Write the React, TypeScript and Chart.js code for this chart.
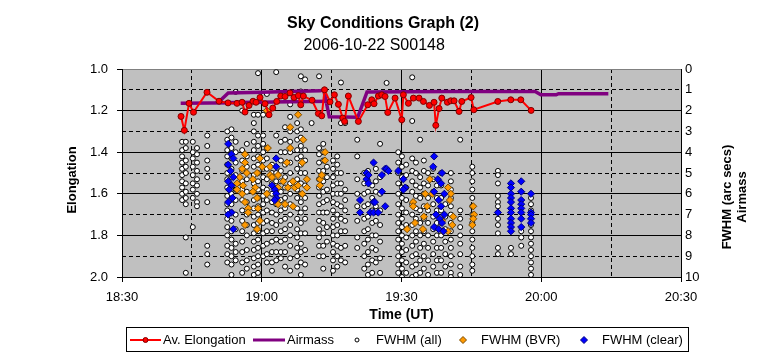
import React, { useEffect, useRef } from 'react';
import { Chart, registerables } from 'chart.js';

Chart.register(...registerables);

const FONT = "'Liberation Sans', Arial, Helvetica, sans-serif";

const titleText = 'Sky Conditions Graph (2)';
const subtitleText = '2006-10-22 S00148    ';
const xAxisTitle = 'Time (UT)';
const leftAxisTitle = 'Elongation';
const rightAxisTitle = ['FWHM (arc secs)', 'Airmass'];

// x values: minutes after 18:00 UT
const xTickValues = [30, 60, 90, 120, 150];
const xTickLabels = ['18:30', '19:00', '19:30', '20:00', '20:30'];

const legendLabels = ['Av. Elongation', 'Airmass', 'FWHM (all)', 'FWHM (BVR)', 'FWHM (clear)'];

// Av. Elongation [minute, elongation]
const elongation: [number, number][] = [
  [42.67, 1.228], [43.38, 1.295], [44.39, 1.165], [45.35, 1.208], [48.25, 1.112], [50.83, 1.155],
  [52.76, 1.163], [54.69, 1.165], [55.77, 1.16], [56.41, 1.207], [57.27, 1.175], [58.13, 1.155],
  [58.77, 1.16], [59.63, 1.137], [60.71, 1.167], [61.56, 1.22], [62.36, 1.188], [63.22, 1.156],
  [64.08, 1.13], [65.0, 1.132], [66.07, 1.115], [66.93, 1.137], [67.86, 1.128], [68.37, 1.172],
  [68.93, 1.13], [70.8, 1.15], [72.15, 1.214], [72.88, 1.225], [73.48, 1.1], [74.66, 1.158],
  [75.59, 1.124], [76.45, 1.17], [77.39, 1.236], [77.78, 1.252], [78.59, 1.13], [80.74, 1.252],
  [82.76, 1.172], [83.62, 1.148], [84.11, 1.167], [85.04, 1.13], [85.76, 1.124], [86.47, 1.132],
  [87.05, 1.209], [88.62, 1.14], [90.06, 1.244], [90.4, 1.124], [91.48, 1.165], [92.55, 1.14],
  [93.77, 1.14], [94.7, 1.156], [95.99, 1.175], [96.99, 1.16], [97.36, 1.271], [98.07, 1.19],
  [98.65, 1.14], [99.85, 1.16], [100.58, 1.153], [101.29, 1.153], [102.36, 1.204], [102.94, 1.156],
  [104.94, 1.137], [105.52, 1.196], [110.67, 1.156], [113.46, 1.148], [115.61, 1.148], [117.82, 1.199],
];

// Airmass [minute, airmass] in recorded order
const airmass: [number, number][] = [
  [42.6, 1.65], [55, 1.62], [65, 1.58], [74.7, 1.55], [50.6, 1.62], [52.8, 1.15], [60, 1.12],
  [66, 1.08], [72.5, 1.05], [73.3, 1.0], [74.5, 2.3], [80.6, 2.32], [82.6, 1.1], [100, 1.08],
  [118.7, 1.08], [119.9, 1.24], [123.2, 1.24], [123.7, 1.19], [134.4, 1.19],
];

// FWHM (all): [minute, values...]
const fwhmAll: [number, number[]][] = [
  [42.9, [3.5, 3.9, 4.2, 4.5, 4.8, 5.1, 5.4, 5.7, 6.0, 6.3]],
  [43.7, [3.5, 3.8, 4.4, 4.7, 5.0, 5.5, 5.9, 6.2, 6.5, 8.1, 9.8]],
  [45.2, [3.5, 4.0, 4.3, 4.7, 5.1, 5.5, 5.8, 6.2, 7.6]],
  [46.1, [3.8, 4.1, 4.5, 4.9, 5.3, 5.6, 6.0, 6.4, 6.6]],
  [48.3, [3.2, 3.7, 4.4, 4.8, 5.2, 6.4, 8.5, 8.9, 9.4]],
  [52.6, [3.0, 3.4, 3.9, 4.2, 4.6, 5.0, 5.3, 5.7, 6.1, 6.5, 6.8, 7.2, 7.6, 8.0, 8.5, 8.9, 9.3]],
  [53.5, [2.9, 3.3, 3.8, 4.3, 4.8, 5.2, 5.6, 6.0, 6.5, 6.9, 7.3, 7.8, 8.2, 8.6, 9.0, 9.4, 9.9]],
  [54.4, [1.1, 3.5, 4.0, 4.5, 5.1, 5.8, 6.3, 7.0, 7.7, 8.4, 8.8, 9.2]],
  [55.8, [2.0, 3.9, 4.4, 4.9, 5.4, 5.8, 6.3, 6.8, 7.3, 7.8, 8.3, 8.8, 9.3, 9.8]],
  [56.8, [3.6, 4.2, 4.7, 5.3, 5.9, 6.4, 7.0, 7.5, 8.0, 8.7, 9.2, 9.6]],
  [58.3, [2.2, 2.6, 3.0, 3.5, 3.9, 4.3, 4.7, 5.1, 5.5, 5.9, 6.3, 6.7, 7.1, 7.5, 7.9, 8.3, 8.7, 9.1, 9.5, 9.9]],
  [59.2, [0.2, 2.2, 3.2, 3.7, 4.2, 4.6, 5.0, 5.4, 5.8, 6.2, 6.6, 7.0, 7.4, 7.8, 8.2, 8.6, 9.0, 9.4, 9.8]],
  [60.3, [2.2, 3.2, 3.6, 4.0, 4.4, 4.8, 5.2, 5.7, 6.1, 6.5, 6.9, 7.4, 7.9, 8.5, 9.0]],
  [61.1, [1.2, 3.8, 4.3, 4.8, 5.3, 5.8, 6.3, 6.8, 7.3, 7.8, 8.4, 8.9, 9.3]],
  [62.2, [4.6, 5.0, 5.5, 6.0, 6.4, 6.9, 7.4, 7.8, 8.3, 8.8, 9.3, 9.7]],
  [63.1, [0.15, 3.2, 5.0, 5.4, 5.9, 6.5, 7.0, 7.5, 8.2, 8.8, 9.2]],
  [64.1, [3.5, 4.0, 4.4, 4.9, 5.4, 5.9, 6.3, 6.8, 7.3, 7.8, 8.3, 8.8, 9.1]],
  [65.0, [2.8, 3.4, 4.0, 4.6, 5.2, 5.7, 6.2, 6.7, 7.2, 7.7, 8.2, 8.8, 9.5]],
  [66.1, [1.7, 2.3, 3.0, 3.5, 4.0, 4.5, 5.0, 5.5, 6.0, 6.5, 7.0, 7.5, 8.0, 8.5, 9.1, 9.7]],
  [67.6, [2.6, 3.0, 3.4, 3.9, 4.3, 4.8, 5.3, 5.8, 6.2, 6.7, 7.2, 7.7, 8.1, 8.6, 9.0, 9.5]],
  [68.4, [0.35, 1.08, 2.9, 3.3, 3.7, 4.2, 4.6, 5.0, 5.5, 6.0, 6.4, 6.9, 7.4, 7.9, 8.4, 8.8, 9.3, 9.9]],
  [69.3, [0.5, 3.9, 4.4, 5.0, 5.6, 6.2, 6.7, 7.2, 7.9, 8.7, 9.4]],
  [70.7, [2.6]],
  [72.3, [0.35, 3.8, 4.1, 4.5, 4.9, 5.3, 5.7, 6.1, 6.5, 6.9, 7.3, 7.7, 8.1, 8.5, 9.0]],
  [73.2, [3.6, 4.0, 4.4, 4.9, 5.4, 5.9, 6.4, 6.9, 7.4, 7.9, 8.5, 9.0, 9.6]],
  [74.0, [4.7, 5.2, 5.8, 6.3, 6.9, 7.6, 8.3]],
  [75.3, [4.4, 4.8, 5.2, 5.6, 6.0, 6.4, 6.8, 7.2, 7.6, 8.0, 8.4, 8.8, 9.2, 9.7]],
  [76.2, [4.2, 4.6, 5.0, 5.5, 6.0, 6.5, 7.0, 7.5, 8.0, 8.5, 9.0, 9.5]],
  [77.0, [0.65, 2.6, 5.0, 5.5, 6.0, 6.6, 7.2, 7.8, 8.6, 9.2]],
  [77.9, [2.6, 5.8, 6.3, 6.8, 7.3, 7.8, 8.5, 9.3]],
  [80.5, [3.4, 4.2, 5.3, 6.0, 6.6, 7.3, 8.1, 8.6]],
  [82.0, [5.0, 5.5, 6.0, 6.6, 7.2, 7.8, 8.4, 9.0, 9.6]],
  [82.8, [4.9, 5.4, 5.9, 6.5, 7.1, 7.7, 8.2, 8.8, 9.4, 9.9]],
  [83.7, [5.6, 6.2, 6.8, 7.4, 8.0, 8.6, 9.2, 9.8]],
  [84.5, [4.8, 5.4, 5.9, 6.6, 7.3, 8.0, 8.7, 9.3]],
  [85.4, [3.6, 5.2, 6.0, 6.8, 7.5, 8.3, 9.1, 9.8]],
  [86.8, [0.67]],
  [89.3, [4.0, 4.5, 5.0, 5.5, 6.0, 6.5, 7.0, 7.4, 7.8, 8.2, 8.6, 9.0, 9.4, 9.8]],
  [90.1, [4.2, 4.7, 5.2, 5.7, 6.2, 6.7, 7.2, 7.6, 8.0, 8.4, 8.8, 9.2, 9.6, 10.0]],
  [91.0, [4.6, 5.1, 5.7, 6.3, 6.9, 7.5, 8.1, 8.7, 9.3, 9.8]],
  [92.3, [0.4, 2.5, 4.3, 4.9, 5.4, 5.9, 6.5, 7.0, 7.5, 8.0, 8.5, 9.0, 9.5, 10.0]],
  [93.1, [4.5, 5.0, 5.6, 6.1, 6.7, 7.2, 7.8, 8.3, 8.9, 9.4, 9.9]],
  [94.0, [3.4, 5.2, 5.7, 6.2, 6.8, 7.4, 8.0, 8.6, 9.2, 9.8]],
  [94.8, [4.4, 4.9, 5.5, 6.0, 6.6, 7.2, 7.8, 8.4, 9.0, 9.6]],
  [95.7, [5.0, 5.6, 6.2, 6.8, 7.4, 8.0, 8.6, 9.2, 9.9]],
  [96.8, [4.8, 5.3, 5.9, 6.5, 7.1, 7.7, 8.3, 8.9, 9.5]],
  [97.6, [5.6, 6.2, 6.8, 7.4, 8.0, 8.6, 9.2, 9.8]],
  [98.5, [5.0, 5.6, 6.2, 6.8, 7.4, 8.0, 8.6, 9.2, 9.8]],
  [99.4, [6.5, 7.1, 7.7, 8.3, 8.9, 9.5]],
  [100.6, [5.0, 5.4, 5.8, 6.2, 6.6, 7.0, 7.4, 7.8, 8.2, 8.6, 9.0, 9.4, 9.8, 10.0]],
  [102.6, [3.4, 6.8, 7.2, 7.6, 8.0, 8.4, 8.9, 9.5, 9.9]],
  [105.2, [4.7, 5.0, 5.4, 5.8, 6.2, 6.6, 7.0, 7.4, 7.8, 8.2, 8.6, 9.0, 9.4, 9.7]],
  [110.7, [4.9, 5.1, 5.5, 6.1, 6.4, 6.6, 6.9, 7.2, 7.5, 7.9, 8.6, 8.9]],
  [113.5, [8.6, 8.9]],
  [115.7, [7.8, 8.1, 8.5]],
  [117.8, [6.2, 6.5, 6.8, 7.5, 7.8, 8.1, 8.4, 8.7, 9.0, 9.3, 9.6, 9.9]],
];

// FWHM (BVR) [minute, fwhm]
const fwhmBVR: [number, number][] = [
  [56.4, 4.1], [56.4, 4.5], [55.8, 4.8], [56.8, 5.0], [55.3, 5.2], [54.7, 5.5], [56.0, 5.6], [54.7, 5.8],
  [55.8, 6.0], [56.4, 6.4], [57.1, 6.7], [57.1, 6.9], [56.4, 7.5], [59.0, 7.7], [59.6, 4.3], [60.1, 4.7],
  [59.0, 5.0], [58.1, 5.3], [58.6, 5.7], [58.1, 5.9], [59.0, 6.2], [59.2, 6.7], [59.6, 7.3], [61.1, 6.0],
  [61.8, 5.1], [61.8, 4.7], [61.3, 3.8], [62.2, 5.2], [63.5, 5.1], [63.5, 5.7], [65.4, 4.5], [66.1, 2.8],
  [66.1, 3.8], [64.6, 5.4], [65.6, 5.7], [66.7, 5.4], [67.1, 5.7], [67.8, 5.6], [68.7, 4.5], [69.7, 5.3],
  [69.7, 5.7], [68.7, 6.0], [66.7, 6.6], [65.0, 6.5], [63.3, 6.3], [63.5, 6.5], [72.5, 5.3], [72.9, 5.1],
  [73.6, 4.4], [73.6, 4.0], [72.5, 5.6], [68.9, 3.4], [67.8, 2.2], [61.1, 2.0],
  [92.5, 6.4], [92.5, 6.6], [95.1, 6.0], [95.5, 6.6], [96.6, 6.0], [96.1, 5.3], [94.8, 7.1], [92.9, 7.4],
  [91.2, 7.7], [94.6, 7.7], [98.9, 7.8], [100.0, 5.7], [100.6, 6.0], [100.4, 6.3], [101.1, 7.1], [100.9, 7.5],
  [100.0, 7.8], [98.7, 7.3], [105.4, 6.6], [105.6, 7.0], [105.4, 7.2], [105.2, 7.5],
];

// FWHM (clear) [minute, fwhm]
const fwhmClear: [number, number][] = [
  [52.8, 3.6], [53.5, 4.1], [53.9, 4.3], [52.8, 4.6], [53.3, 4.9], [53.9, 5.2], [52.8, 5.4], [53.5, 5.6],
  [53.0, 5.8], [53.7, 6.2], [52.8, 6.4], [53.5, 6.9], [52.8, 7.0], [53.9, 7.7],
  [63.1, 4.3], [63.1, 4.7], [62.2, 5.6], [62.8, 5.8], [63.1, 6.0], [63.1, 6.2], [62.8, 6.3],
  [81.1, 6.3], [81.1, 6.9], [82.5, 5.0], [82.5, 5.3], [82.9, 5.1], [82.9, 5.5], [84.0, 4.5], [84.0, 6.4],
  [84.3, 6.4], [83.3, 6.9], [84.0, 6.9], [85.0, 6.9], [85.8, 5.1], [85.8, 5.9], [86.5, 4.8], [86.5, 6.6],
  [86.8, 4.8], [87.2, 4.9], [89.3, 4.9], [90.4, 5.3], [90.8, 5.7], [90.4, 5.8],
  [97.0, 4.2], [96.8, 4.7], [97.8, 5.3], [98.5, 5.5], [97.0, 5.9], [98.0, 6.3], [98.5, 6.6], [97.4, 7.0],
  [98.2, 7.2], [98.7, 7.4], [97.0, 7.6], [98.0, 7.7], [99.0, 7.8], [98.7, 5.0], [99.2, 6.0], [99.2, 7.0],
  [110.7, 6.9],
  [113.5, 5.5], [113.5, 5.7], [113.5, 6.0], [113.5, 6.2], [113.5, 6.4], [113.5, 6.7], [113.5, 6.9],
  [113.5, 7.2], [113.5, 7.4], [113.5, 7.6], [113.5, 7.8],
  [115.7, 5.4], [115.7, 5.9], [115.7, 6.3], [115.7, 6.5], [115.7, 6.7], [115.7, 6.9], [115.7, 7.2], [115.7, 7.6],
  [117.8, 6.0], [117.8, 6.9], [117.8, 7.0], [117.8, 7.2], [117.8, 7.4],
];

const RED = '#FF0000';
const RED_EDGE = '#800000';
const PURPLE = '#800080';
const ORANGE = '#FF9900';
const ORANGE_EDGE = '#7A4A00';
const BLUE = '#0000FF';
const BLUE_EDGE = '#000080';

const toXY = (arr: [number, number][]) => arr.map(([x, y]) => ({ x, y }));
const allPoints = fwhmAll.flatMap(([x, vals]) => vals.map((y) => ({ x, y })));

export default function App() {
  const ref = useRef<HTMLCanvasElement>(null);

  useEffect(() => {
    const canvas = ref.current;
    if (!canvas) return;

    const bgPlugin = {
      id: 'plotBg',
      beforeDraw(chart: any) {
        const { ctx, chartArea } = chart;
        ctx.save();
        ctx.fillStyle = '#C0C0C0';
        ctx.fillRect(chartArea.left, chartArea.top, chartArea.right - chartArea.left, chartArea.bottom - chartArea.top);
        ctx.restore();
      },
    };

    const axisTitlesPlugin = {
      id: 'axisTitles',
      afterDraw(chart: any) {
        const { ctx, chartArea } = chart;
        const cy = (chartArea.top + chartArea.bottom) / 2;
        ctx.save();
        ctx.fillStyle = '#000';
        ctx.font = `bold 13px ${FONT}`;
        ctx.textAlign = 'center';
        ctx.textBaseline = 'middle';
        // left axis title
        ctx.save();
        ctx.translate(72, cy + 7);
        ctx.rotate(-Math.PI / 2);
        ctx.fillText(leftAxisTitle, 0, 0);
        ctx.restore();
        // right axis title (two lines)
        rightAxisTitle.forEach((t, i) => {
          ctx.save();
          ctx.translate(chartArea.right + 46 + i * 15, cy + 24);
          ctx.rotate(-Math.PI / 2);
          ctx.fillText(t, 0, 0);
          ctx.restore();
        });
        ctx.restore();
      },
    };

    const legendPlugin = {
      id: 'boxLegend',
      afterDraw(chart: any) {
        const { ctx } = chart;
        const left = 126.5, top = 327.5, right = 688.5, bottom = 351.5;
        const cy = 340;
        ctx.save();
        ctx.fillStyle = '#FFFFFF';
        ctx.fillRect(left, top, right - left, bottom - top);
        ctx.strokeStyle = '#000';
        ctx.lineWidth = 1;
        ctx.strokeRect(left, top, right - left, bottom - top);

        ctx.strokeStyle = RED;
        ctx.lineWidth = 2;
        ctx.beginPath(); ctx.moveTo(130, cy); ctx.lineTo(161, cy); ctx.stroke();
        ctx.fillStyle = RED; ctx.strokeStyle = RED_EDGE; ctx.lineWidth = 1;
        ctx.beginPath(); ctx.arc(145.5, cy, 2.5, 0, Math.PI * 2); ctx.fill(); ctx.stroke();
        ctx.strokeStyle = PURPLE; ctx.lineWidth = 3;
        ctx.beginPath(); ctx.moveTo(253, cy); ctx.lineTo(285, cy); ctx.stroke();
        ctx.fillStyle = '#fff'; ctx.strokeStyle = '#000'; ctx.lineWidth = 1;
        ctx.beginPath(); ctx.arc(357, cy, 2, 0, Math.PI * 2); ctx.fill(); ctx.stroke();
        const diamond = (x: number, fill: string, edge: string) => {
          ctx.fillStyle = fill; ctx.strokeStyle = edge; ctx.lineWidth = 1;
          ctx.beginPath();
          ctx.moveTo(x, cy - 3.5); ctx.lineTo(x + 3.5, cy); ctx.lineTo(x, cy + 3.5); ctx.lineTo(x - 3.5, cy);
          ctx.closePath(); ctx.fill(); ctx.stroke();
        };
        diamond(463, ORANGE, ORANGE_EDGE);
        diamond(584, BLUE, BLUE_EDGE);

        ctx.fillStyle = '#000';
        ctx.font = `13px ${FONT}`;
        ctx.textAlign = 'left';
        ctx.textBaseline = 'middle';
        const textX = [163, 287, 376, 481, 602];
        legendLabels.forEach((t, i) => ctx.fillText(t, textX[i], cy + 0.5));
        ctx.restore();
      },
    };

    const tickFont = { family: FONT, size: 13 };

    const chart = new Chart(canvas, {
      type: 'line',
      data: {
        datasets: [
          {
            label: legendLabels[0],
            data: toXY(elongation),
            xAxisID: 'x',
            yAxisID: 'y',
            borderColor: RED,
            borderWidth: 2,
            pointRadius: 3,
            pointBackgroundColor: RED,
            pointBorderColor: RED_EDGE,
            pointBorderWidth: 1,
            tension: 0,
            order: 1,
          },
          {
            label: legendLabels[1],
            data: toXY(airmass),
            xAxisID: 'x',
            yAxisID: 'y2',
            borderColor: PURPLE,
            borderWidth: 3.5,
            pointRadius: 0,
            tension: 0,
            order: 2,
          },
          {
            label: legendLabels[4],
            data: toXY(fwhmClear),
            xAxisID: 'x',
            yAxisID: 'y2',
            showLine: false,
            pointStyle: 'rectRot',
            pointRadius: 3.6,
            pointBackgroundColor: BLUE,
            pointBorderColor: BLUE_EDGE,
            pointBorderWidth: 1,
            order: 3,
          },
          {
            label: legendLabels[3],
            data: toXY(fwhmBVR),
            xAxisID: 'x',
            yAxisID: 'y2',
            showLine: false,
            pointStyle: 'rectRot',
            pointRadius: 3.6,
            pointBackgroundColor: ORANGE,
            pointBorderColor: ORANGE_EDGE,
            pointBorderWidth: 1,
            order: 4,
          },
          {
            label: legendLabels[2],
            data: allPoints,
            xAxisID: 'x',
            yAxisID: 'y2',
            showLine: false,
            pointStyle: 'circle',
            pointRadius: 2.5,
            pointBackgroundColor: '#FFFFFF',
            pointBorderColor: '#000000',
            pointBorderWidth: 1,
            order: 5,
          },
        ] as any,
      },
      options: {
        responsive: false,
        devicePixelRatio: 1,
        animation: false,
        events: [],
        layout: { padding: { left: 0, right: 0, top: 0, bottom: 34 } },
        plugins: {
          legend: { display: false },
          tooltip: { enabled: false },
          title: {
            display: true,
            text: titleText,
            color: '#000',
            font: { family: FONT, size: 16, weight: 'bold', lineHeight: 1.2 },
            padding: { top: 14.4, bottom: 0 },
          },
          subtitle: {
            display: true,
            text: subtitleText,
            color: '#000',
            font: { family: FONT, size: 16, weight: 'normal', lineHeight: 1.2 },
            padding: { top: 2.8, bottom: 13.4 },
          },
        },
        scales: {
          x: {
            type: 'linear',
            position: 'bottom',
            min: 30,
            max: 150,
            afterBuildTicks: (s: any) => {
              s.ticks = xTickValues.map((value) => ({ value }));
            },
            ticks: {
              callback: (v: any) => xTickLabels[xTickValues.indexOf(Number(v))] ?? '',
              color: '#000',
              font: tickFont,
              padding: 8,
              maxRotation: 0,
              autoSkip: false,
            },
            grid: { color: '#000', lineWidth: 1, tickLength: 5, tickColor: '#000' },
            border: { display: true, color: '#000' },
            title: {
              display: true,
              text: xAxisTitle,
              color: '#000',
              font: { family: FONT, size: 14, weight: 'bold', lineHeight: 1.2 },
              padding: { top: 0, bottom: 1.6 },
            },
            afterFit: (s: any) => {
              s.height = 48;
            },
          },
          x2: {
            type: 'linear',
            position: 'top',
            min: 30,
            max: 150,
            ticks: { display: false, stepSize: 15 },
            grid: { color: '#000', lineWidth: 1, drawTicks: false },
            border: { display: false, dash: [4, 3] },
            afterFit: (s: any) => {
              s.height = 0;
            },
          },
          y: {
            type: 'linear',
            position: 'left',
            reverse: true,
            min: 1,
            max: 2,
            ticks: {
              stepSize: 0.2,
              callback: (v: any) => Number(v).toFixed(1),
              color: '#000',
              font: tickFont,
              padding: 9,
            },
            grid: {
              color: (c: any) => (c.tick && Math.abs(c.tick.value - 1) < 1e-6 ? '#808080' : '#000'),
              tickColor: '#000',
              tickLength: 5,
            },
            border: { display: true, color: '#000' },
            title: { display: false },
            afterFit: (s: any) => {
              s.width = 122;
            },
          },
          y2: {
            type: 'linear',
            position: 'right',
            reverse: true,
            min: 0,
            max: 10,
            ticks: { stepSize: 1, color: '#000', font: tickFont, padding: 4 },
            grid: {
              color: (c: any) => (c.tick && c.tick.value === 0 ? 'rgba(0,0,0,0)' : '#000'),
              drawTicks: false,
            },
            border: { display: true, color: '#000', dash: [4, 3] },
            afterFit: (s: any) => {
              s.width = 85;
            },
          },
        },
      } as any,
      plugins: [bgPlugin, axisTitlesPlugin, legendPlugin],
    });

    return () => chart.destroy();
  }, []);

  return (
    <div style={{ position: 'fixed', left: 0, top: 0, width: 766, height: 359, background: '#fff' }}>
      <canvas ref={ref} width={766} height={359} style={{ display: 'block', width: 766, height: 359 }} />
    </div>
  );
}
